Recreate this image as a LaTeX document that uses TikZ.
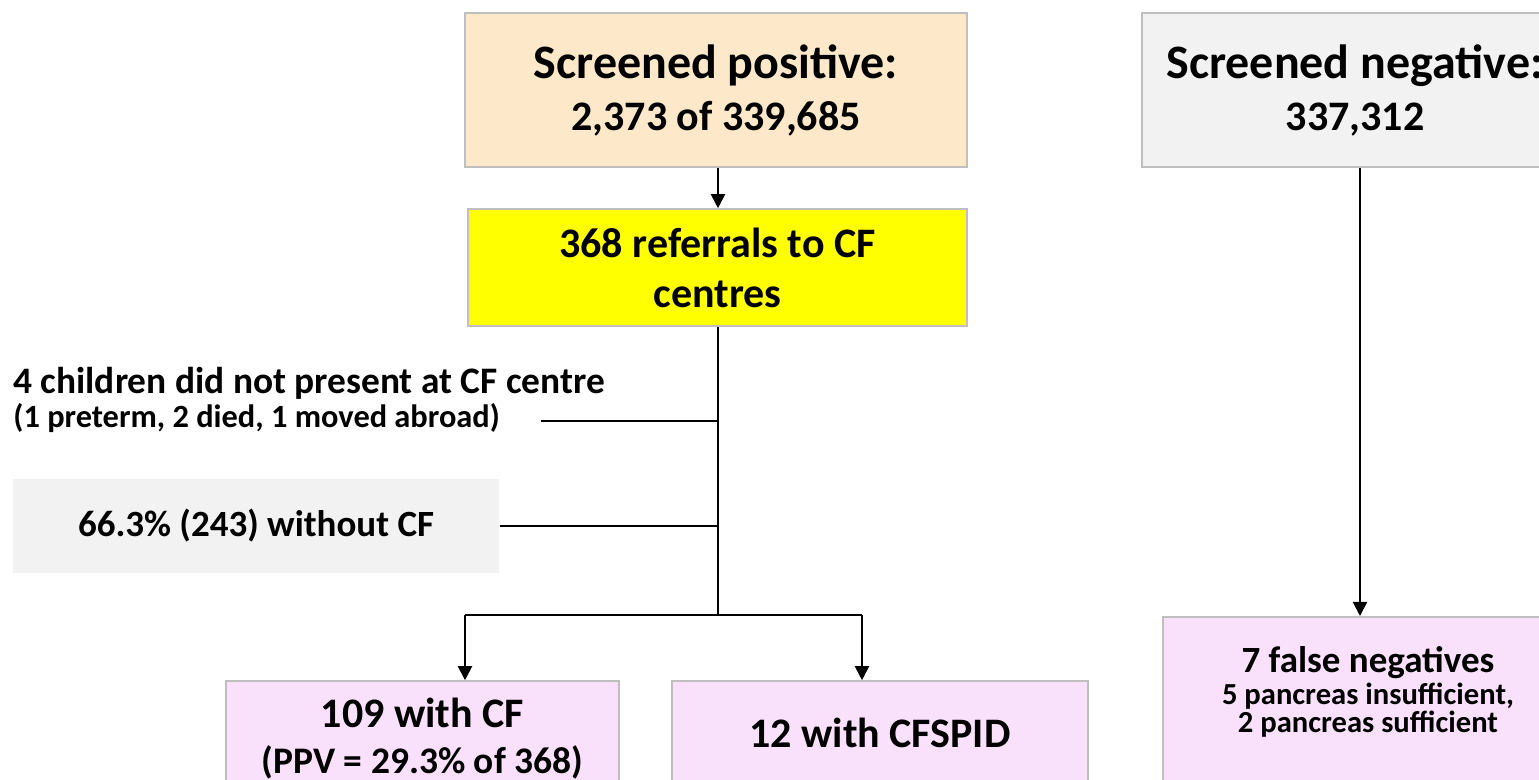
\documentclass[tikz,border=0pt]{standalone}
\usepackage{fontspec}
\setmainfont{Carlito}
\usetikzlibrary{arrows.meta,positioning}

\definecolor{peach}{HTML}{FDE9C9}
\definecolor{refyellow}{HTML}{FFFF00}
\definecolor{lightgrey}{HTML}{F2F2F2}
\definecolor{lilac}{HTML}{F9E0FB}
\definecolor{boxline}{HTML}{BFBFBF}

\newcommand{\bigline}{\fontsize{24}{26}\selectfont}
\newcommand{\midline}{\fontsize{21}{25}\selectfont}

\tikzset{
  box/.style={draw=boxline, line width=0.8pt, align=center, inner sep=0pt,
    font=\bfseries\midline},
  link/.style={line width=1pt},
  arr/.style={link, -{Triangle[width=7pt,length=7pt]}}
}

\begin{document}
\begin{tikzpicture}[x=0.5pt,y=-0.5pt]
   \clip (0,0) rectangle (1539,780);

   % top row
   \node[box, fill=peach, minimum width=251pt, minimum height=77pt] (pos) at (716,90)
     {{\bigline Screened positive:}\\[1pt]2,373 of 339,685};
   \node[box, fill=lightgrey, minimum width=213pt, minimum height=77pt] (neg) at (1355,90)
     {{\bigline Screened negative:}\\[1pt]337,312};
   \node[box, fill=refyellow, minimum width=249.5pt, minimum height=58.5pt] (ref) at (717.5,267.5)
     {368 referrals to CF\\centres};

   % exclusions
   \node[anchor=north west, align=left, inner sep=0pt, font=\bfseries] (absent) at (13,367)
     {{\fontsize{18.7}{22}\selectfont 4 children did not present at CF centre}\\[1pt]
      {\fontsize{16.2}{18}\selectfont (1 preterm, 2 died, 1 moved abroad)}};
   \node[box, draw=none, fill=lightgrey, minimum width=243pt, minimum height=47pt,
     font=\bfseries\fontsize{18.5}{20}\selectfont] (nocf) at (256,526)
     {66.3\% (243) without CF};

   % outcomes
   \node[box, fill=lilac, minimum width=196.5pt, minimum height=58pt] (cf) at (422.5,739)
     {109 with CF\\[-2pt]{\fontsize{18.75}{20}\selectfont (PPV = 29.3\% of 368)}};
   \node[box, fill=lilac, minimum width=208pt, minimum height=52pt] (spid) at (880,733)
     {12 with CFSPID};
   \node[box, fill=lilac, minimum width=205pt, minimum height=100pt, anchor=north] (fneg) at (1368,616) {};
   \node[align=center, inner sep=0pt, font=\bfseries, below=15pt of fneg.north] (fnegtxt)
     {{\fontsize{18.5}{22}\selectfont 7 false negatives}\\[1pt]
      {\fontsize{15.3}{17}\selectfont 5 pancreas insufficient,}\\
      {\fontsize{15.3}{17}\selectfont 2 pancreas sufficient}};

   % connectors
   \coordinate (split) at (718,615);
   \coordinate (left) at (465,615);
   \coordinate (right) at (862,615);
   \coordinate (gone) at (541,421);
   \draw[arr] (pos.south -| split) -- (ref.north -| split);
   \draw[link, line width=1.3pt] (ref.south -| split) -- (split);
   \draw[link] (left) -- (right);
   \draw[arr] (left) -- (left |- cf.north);
   \draw[arr] (right) -- (right |- spid.north);
   \draw[link] (split |- gone) -- (gone);
   \draw[link] (split |- nocf.east) -- (nocf.east);
   \draw[arr] (neg.south -| 1360,0) -- (fneg.north -| 1360,0);
\end{tikzpicture}
\end{document}
